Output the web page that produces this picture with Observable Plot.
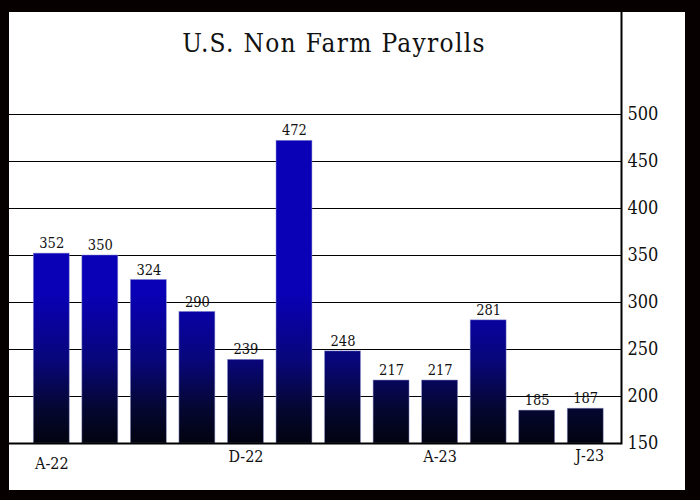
<!DOCTYPE html>
<html><head><meta charset="utf-8">
<script src="https://cdn.jsdelivr.net/npm/d3@7"></script>
<script src="https://cdn.jsdelivr.net/npm/@observablehq/plot@0.6"></script>
<style>
body{margin:0;background:#000;}
#wrap{position:relative;width:700px;height:500px;background:#070000;overflow:hidden}
#panel{position:absolute;left:9px;top:12px;width:676px;height:478px;background:#fff}
#title{position:absolute;left:0;width:668px;top:30px;line-height:26px;text-align:center;font-size:26px;letter-spacing:1.3px;font-family:"DejaVu Serif Condensed","DejaVu Serif",serif;color:#111}
#chart{position:absolute;left:0;top:0}
</style></head><body>
<div id="wrap"><div id="panel"></div><div id="title">U.S. Non Farm Payrolls</div><div id="chart"></div></div>
<script>
const months = ["Aug 22","Sep 22","Oct 22","Nov 22","Dec 22","Jan 23","Feb 23","Mar 23","Apr 23","May 23","Jun 23","Jul 23"];
const values = [352,350,324,290,239,472,248,217,217,281,185,187];
const tickMonths = ["Aug 22","Dec 22","Apr 23","Jul 23"];
const tickLabels = ["A-22","D-22","A-23","J-23"];
const yTicks = [150,200,250,300,350,400,450,500];

const data = months.map((m,i)=>({month:m, value:values[i]}));
const xt = tickMonths.map((m,i)=>({month:m, label:tickLabels[i]}));
const font = "'DejaVu Serif Condensed','DejaVu Serif',serif";

const gradient = (index, scales) => {
  const ns = "http://www.w3.org/2000/svg";
  const defs = document.createElementNS(ns,"defs");
  const g = document.createElementNS(ns,"linearGradient");
  g.setAttribute("id","barGrad");
  g.setAttribute("gradientUnits","userSpaceOnUse");
  g.setAttribute("x1",0); g.setAttribute("x2",0);
  g.setAttribute("y1",scales.y(310)); g.setAttribute("y2",scales.y(150));
  [[0,"#0a00b6"],[0.45,"#08067a"],[0.75,"#050735"],[1,"#02030f"]].forEach(([o,c])=>{
    const s=document.createElementNS(ns,"stop");
    s.setAttribute("offset",o); s.setAttribute("stop-color",c); g.appendChild(s);
  });
  defs.appendChild(g);
  return defs;
};

const chart = Plot.plot({
  width:700, height:500,
  marginLeft:9, marginRight:79, marginTop:12, marginBottom:57,
  style:{background:"transparent", fontFamily:font},
  x:{type:"band", domain:months, range:[27,609.5], paddingInner:0.26, paddingOuter:0.13, round:false, axis:null},
  y:{domain:[150,500], range:[443,114], axis:null},
  marks:[
    gradient,
    Plot.ruleY(yTicks.filter(d=>d>150), {stroke:"#000", strokeWidth:1, strokeOpacity:1}),
    Plot.barY(data, {x:"month", y1:150, y2:"value", fill:"url(#barGrad)", stroke:"#8a90cc", strokeWidth:0.7, strokeOpacity:0.7}),
    Plot.ruleY([150], {stroke:"#000", strokeWidth:2}),
    Plot.frame({anchor:"right", stroke:"#000", strokeWidth:2}),
    Plot.text(data, {x:"month", y:"value", text:d=>String(d.value), dy:-10, fontSize:14.5, fill:"#111", fontFamily:font}),
    Plot.text(yTicks, {y:d=>d, text:d=>String(d), frameAnchor:"right", dx:6, textAnchor:"start", fontSize:18, fill:"#111", fontFamily:font}),
    Plot.text(xt.slice(0,1), {x:"month", text:"label", frameAnchor:"bottom", dy:25, fontSize:16, fill:"#111", fontFamily:font}),
    Plot.text(xt.slice(1,3), {x:"month", text:"label", frameAnchor:"bottom", dy:18, fontSize:16, fill:"#111", fontFamily:font}),
    Plot.text(xt.slice(3), {x:"month", text:"label", frameAnchor:"bottom", dy:17, dx:4, fontSize:16, fill:"#111", fontFamily:font})
  ]
});
document.getElementById("chart").appendChild(chart);
</script>
</body></html>
